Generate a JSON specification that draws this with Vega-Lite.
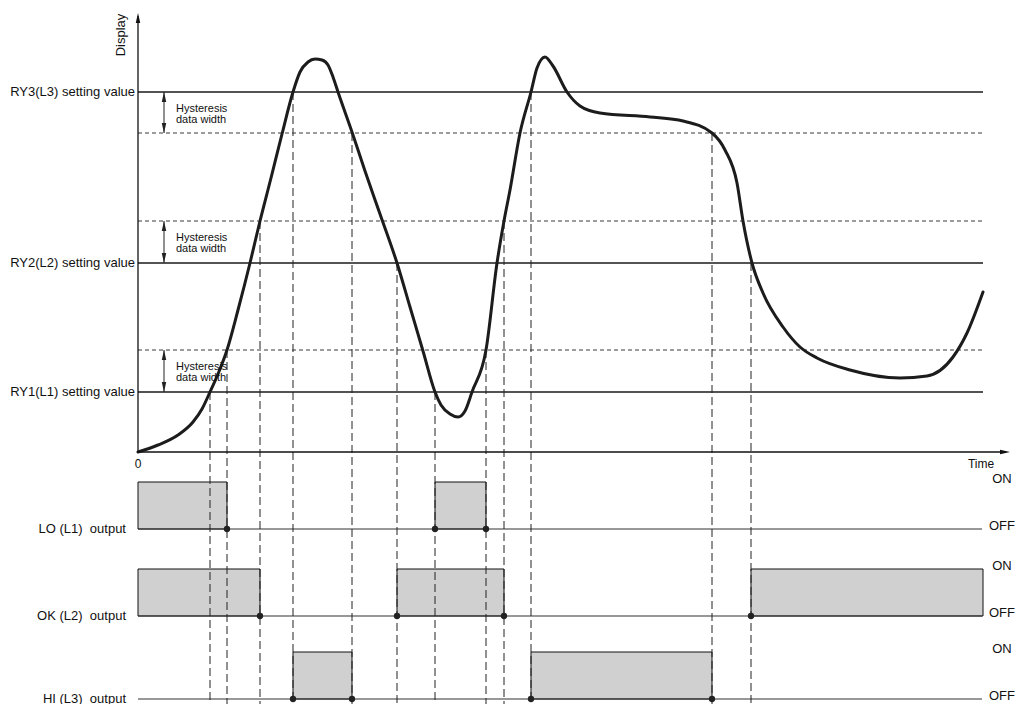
{
  "$schema": "https://vega.github.io/schema/vega-lite/v6.json",
  "width": 879,
  "height": 704,
  "padding": {"left": 138, "top": 0, "right": 0, "bottom": 0},
  "autosize": {"type": "none"},
  "config": {
    "view": {"stroke": null},
    "text": {"font": "Liberation Sans", "fontSize": 13, "color": "#111"}
  },
  "datasets": {
    "display": [
      {"t": 0, "v": 0}, {"t": 20, "v": 7}, {"t": 40, "v": 17}, {"t": 55, "v": 30}, {"t": 64, "v": 43},
      {"t": 72, "v": 60}, {"t": 80, "v": 78}, {"t": 89, "v": 102}, {"t": 100, "v": 142}, {"t": 112, "v": 189},
      {"t": 122, "v": 231}, {"t": 133, "v": 274}, {"t": 144, "v": 318}, {"t": 155, "v": 360}, {"t": 162, "v": 380},
      {"t": 170, "v": 390}, {"t": 177, "v": 393}, {"t": 184, "v": 392}, {"t": 190, "v": 387}, {"t": 195, "v": 375},
      {"t": 200, "v": 360}, {"t": 214, "v": 320}, {"t": 227, "v": 281}, {"t": 242, "v": 238}, {"t": 259, "v": 189},
      {"t": 272, "v": 145}, {"t": 285, "v": 101}, {"t": 297, "v": 60}, {"t": 303, "v": 47}, {"t": 312, "v": 38},
      {"t": 320, "v": 35}, {"t": 327, "v": 41}, {"t": 334, "v": 60}, {"t": 348, "v": 102}, {"t": 359, "v": 189},
      {"t": 366, "v": 231}, {"t": 372, "v": 262}, {"t": 382, "v": 319}, {"t": 393, "v": 360}, {"t": 399, "v": 384},
      {"t": 407, "v": 395}, {"t": 415, "v": 386}, {"t": 429, "v": 360}, {"t": 442, "v": 346}, {"t": 462, "v": 339},
      {"t": 512, "v": 335}, {"t": 545, "v": 331}, {"t": 574, "v": 319}, {"t": 587, "v": 302}, {"t": 599, "v": 269},
      {"t": 605, "v": 231}, {"t": 614, "v": 189}, {"t": 625, "v": 159}, {"t": 645, "v": 125}, {"t": 662, "v": 105},
      {"t": 679, "v": 94}, {"t": 712, "v": 82}, {"t": 762, "v": 74}, {"t": 789, "v": 76}, {"t": 815, "v": 95},
      {"t": 829, "v": 119}, {"t": 845, "v": 160}
    ],
    "thresholds": [
      {"label": "RY3(L3) setting value", "setting": 360, "hysteresis": 319, "upper": 360, "lower": 319},
      {"label": "RY2(L2) setting value", "setting": 189, "hysteresis": 231, "upper": 231, "lower": 189},
      {"label": "RY1(L1) setting value", "setting": 60, "hysteresis": 102, "upper": 102, "lower": 60}
    ],
    "crossings": [
      {"t": 72, "v": 60}, {"t": 89, "v": 102}, {"t": 122, "v": 231}, {"t": 155, "v": 360},
      {"t": 214, "v": 319}, {"t": 259, "v": 189}, {"t": 297, "v": 60}, {"t": 348, "v": 102},
      {"t": 366, "v": 231}, {"t": 393, "v": 360}, {"t": 574, "v": 319}, {"t": 613, "v": 189}
    ],
    "outputs": [
      {"output": "LO", "label": "LO (L1)\u00a0 output", "off": -77, "on": -30},
      {"output": "OK", "label": "OK (L2)\u00a0 output", "off": -164, "on": -117},
      {"output": "HI", "label": "HI (L3)\u00a0 output", "off": -247, "on": -200}
    ],
    "boxes": [
      {"output": "LO", "start": 0, "end": 89},
      {"output": "LO", "start": 297, "end": 348},
      {"output": "OK", "start": 0, "end": 122},
      {"output": "OK", "start": 259, "end": 366},
      {"output": "OK", "start": 613, "end": 845},
      {"output": "HI", "start": 155, "end": 214},
      {"output": "HI", "start": 393, "end": 574}
    ],
    "anchor": [{}]
  },
  "layer": [
    {
      "data": {"name": "boxes"},
      "transform": [{"lookup": "output", "from": {"data": {"name": "outputs"}, "key": "output", "fields": ["off", "on"]}}],
      "mark": {"type": "rect", "fill": "#d0d0d0", "stroke": "#111", "strokeWidth": 1},
      "encoding": {
        "x": {"field": "start", "type": "quantitative", "scale": {"domain": [0, 879], "nice": false, "zero": false}, "axis": null},
        "x2": {"field": "end"},
        "y": {"field": "off", "type": "quantitative", "scale": {"domain": [-252, 452], "nice": false, "zero": false}, "axis": null},
        "y2": {"field": "on"}
      }
    },
    {
      "data": {"name": "thresholds"},
      "mark": {"type": "rule", "stroke": "#1a1a1a", "strokeWidth": 1.4},
      "encoding": {
        "x": {"datum": 0, "type": "quantitative", "scale": {"domain": [0, 879], "nice": false, "zero": false}, "axis": null},
        "x2": {"datum": 845},
        "y": {"field": "setting", "type": "quantitative", "scale": {"domain": [-252, 452], "nice": false, "zero": false}, "axis": null}
      }
    },
    {
      "data": {"name": "thresholds"},
      "mark": {"type": "rule", "stroke": "#3a3a3a", "strokeWidth": 1, "strokeDash": [4, 3]},
      "encoding": {
        "x": {"datum": 0, "type": "quantitative", "scale": {"domain": [0, 879], "nice": false, "zero": false}, "axis": null},
        "x2": {"datum": 845},
        "y": {"field": "hysteresis", "type": "quantitative", "scale": {"domain": [-252, 452], "nice": false, "zero": false}, "axis": null}
      }
    },
    {
      "data": {"name": "outputs"},
      "mark": {"type": "rule", "stroke": "#333", "strokeWidth": 1.2},
      "encoding": {
        "x": {"datum": 0, "type": "quantitative", "scale": {"domain": [0, 879], "nice": false, "zero": false}, "axis": null},
        "x2": {"datum": 844},
        "y": {"field": "off", "type": "quantitative", "scale": {"domain": [-252, 452], "nice": false, "zero": false}, "axis": null}
      }
    },
    {
      "data": {"name": "crossings"},
      "mark": {"type": "rule", "stroke": "#222", "strokeWidth": 1, "strokeDash": [8, 4]},
      "encoding": {
        "x": {"field": "t", "type": "quantitative", "scale": {"domain": [0, 879], "nice": false, "zero": false}, "axis": null},
        "y": {"field": "v", "type": "quantitative", "scale": {"domain": [-252, 452], "nice": false, "zero": false}, "axis": null},
        "y2": {"datum": -252}
      }
    },
    {
      "data": {"name": "display"},
      "mark": {"type": "line", "interpolate": "monotone", "stroke": "#1c1c1c", "strokeWidth": 3, "strokeCap": "round"},
      "encoding": {
        "x": {"field": "t", "type": "quantitative", "scale": {"domain": [0, 879], "nice": false, "zero": false}, "axis": null},
        "y": {"field": "v", "type": "quantitative", "scale": {"domain": [-252, 452], "nice": false, "zero": false}, "axis": null}
      }
    },
    {
      "data": {"name": "thresholds"},
      "mark": {"type": "rule", "stroke": "#222", "strokeWidth": 1},
      "encoding": {
        "x": {"datum": 26, "type": "quantitative", "scale": {"domain": [0, 879], "nice": false, "zero": false}, "axis": null},
        "y": {"field": "upper", "type": "quantitative", "scale": {"domain": [-252, 452], "nice": false, "zero": false}, "axis": null},
        "y2": {"field": "lower"}
      }
    },
    {
      "data": {"name": "thresholds"},
      "mark": {"type": "point", "shape": "M0,0L0.45,2L-0.45,2Z", "size": 100, "filled": true, "color": "#222", "opacity": 1},
      "encoding": {
        "x": {"datum": 26, "type": "quantitative", "scale": {"domain": [0, 879], "nice": false, "zero": false}, "axis": null},
        "y": {"field": "upper", "type": "quantitative", "scale": {"domain": [-252, 452], "nice": false, "zero": false}, "axis": null}
      }
    },
    {
      "data": {"name": "thresholds"},
      "mark": {"type": "point", "shape": "M0,0L0.45,-2L-0.45,-2Z", "size": 100, "filled": true, "color": "#222", "opacity": 1},
      "encoding": {
        "x": {"datum": 26, "type": "quantitative", "scale": {"domain": [0, 879], "nice": false, "zero": false}, "axis": null},
        "y": {"field": "lower", "type": "quantitative", "scale": {"domain": [-252, 452], "nice": false, "zero": false}, "axis": null}
      }
    },
    {
      "data": {"name": "anchor"},
      "mark": {"type": "rule", "stroke": "#111", "strokeWidth": 1.3},
      "encoding": {
        "x": {"datum": 0, "type": "quantitative", "scale": {"domain": [0, 879], "nice": false, "zero": false}, "axis": null},
        "y": {"datum": 0, "type": "quantitative", "scale": {"domain": [-252, 452], "nice": false, "zero": false}, "axis": null},
        "y2": {"datum": 436}
      }
    },
    {
      "data": {"name": "anchor"},
      "mark": {"type": "rule", "stroke": "#111", "strokeWidth": 1.3},
      "encoding": {
        "x": {"datum": 0, "type": "quantitative", "scale": {"domain": [0, 879], "nice": false, "zero": false}, "axis": null},
        "x2": {"datum": 868},
        "y": {"datum": 0, "type": "quantitative", "scale": {"domain": [-252, 452], "nice": false, "zero": false}, "axis": null}
      }
    },
    {
      "data": {"name": "anchor"},
      "mark": {"type": "point", "shape": "M0,0L0.45,2L-0.45,2Z", "size": 100, "filled": true, "color": "#111", "opacity": 1},
      "encoding": {
        "x": {"datum": 0, "type": "quantitative", "scale": {"domain": [0, 879], "nice": false, "zero": false}, "axis": null},
        "y": {"datum": 439, "type": "quantitative", "scale": {"domain": [-252, 452], "nice": false, "zero": false}, "axis": null}
      }
    },
    {
      "data": {"name": "anchor"},
      "mark": {"type": "point", "shape": "M0,0L-2,0.45L-2,-0.45Z", "size": 100, "filled": true, "color": "#111", "opacity": 1},
      "encoding": {
        "x": {"datum": 872, "type": "quantitative", "scale": {"domain": [0, 879], "nice": false, "zero": false}, "axis": null},
        "y": {"datum": 0, "type": "quantitative", "scale": {"domain": [-252, 452], "nice": false, "zero": false}, "axis": null}
      }
    },
    {
      "data": {"name": "boxes"},
      "transform": [
        {"filter": "datum.start > 0"},
        {"lookup": "output", "from": {"data": {"name": "outputs"}, "key": "output", "fields": ["off"]}}
      ],
      "mark": {"type": "point", "size": 40, "filled": true, "color": "#222", "opacity": 1},
      "encoding": {
        "x": {"field": "start", "type": "quantitative", "scale": {"domain": [0, 879], "nice": false, "zero": false}, "axis": null},
        "y": {"field": "off", "type": "quantitative", "scale": {"domain": [-252, 452], "nice": false, "zero": false}, "axis": null}
      }
    },
    {
      "data": {"name": "boxes"},
      "transform": [
        {"filter": "datum.end < 845"},
        {"lookup": "output", "from": {"data": {"name": "outputs"}, "key": "output", "fields": ["off"]}}
      ],
      "mark": {"type": "point", "size": 40, "filled": true, "color": "#222", "opacity": 1},
      "encoding": {
        "x": {"field": "end", "type": "quantitative", "scale": {"domain": [0, 879], "nice": false, "zero": false}, "axis": null},
        "y": {"field": "off", "type": "quantitative", "scale": {"domain": [-252, 452], "nice": false, "zero": false}, "axis": null}
      }
    },
    {
      "data": {"name": "thresholds"},
      "mark": {"type": "text", "align": "right", "baseline": "middle", "fontSize": 13},
      "encoding": {
        "x": {"datum": -3, "type": "quantitative", "scale": {"domain": [0, 879], "nice": false, "zero": false}, "axis": null},
        "y": {"field": "setting", "type": "quantitative", "scale": {"domain": [-252, 452], "nice": false, "zero": false}, "axis": null},
        "text": {"field": "label"}
      }
    },
    {
      "data": {"name": "thresholds"},
      "mark": {"type": "text", "align": "left", "baseline": "middle", "fontSize": 11, "dy": 17},
      "encoding": {
        "x": {"datum": 38, "type": "quantitative", "scale": {"domain": [0, 879], "nice": false, "zero": false}, "axis": null},
        "y": {"field": "upper", "type": "quantitative", "scale": {"domain": [-252, 452], "nice": false, "zero": false}, "axis": null},
        "text": {"value": "Hysteresis"}
      }
    },
    {
      "data": {"name": "thresholds"},
      "mark": {"type": "text", "align": "left", "baseline": "middle", "fontSize": 11, "dy": 28},
      "encoding": {
        "x": {"datum": 38, "type": "quantitative", "scale": {"domain": [0, 879], "nice": false, "zero": false}, "axis": null},
        "y": {"field": "upper", "type": "quantitative", "scale": {"domain": [-252, 452], "nice": false, "zero": false}, "axis": null},
        "text": {"value": "data width"}
      }
    },
    {
      "data": {"name": "outputs"},
      "mark": {"type": "text", "align": "right", "baseline": "middle", "fontSize": 13},
      "encoding": {
        "x": {"datum": -12, "type": "quantitative", "scale": {"domain": [0, 879], "nice": false, "zero": false}, "axis": null},
        "y": {"field": "off", "type": "quantitative", "scale": {"domain": [-252, 452], "nice": false, "zero": false}, "axis": null},
        "text": {"field": "label"}
      }
    },
    {
      "data": {"name": "outputs"},
      "mark": {"type": "text", "align": "center", "baseline": "middle", "fontSize": 13, "dy": -3},
      "encoding": {
        "x": {"datum": 864, "type": "quantitative", "scale": {"domain": [0, 879], "nice": false, "zero": false}, "axis": null},
        "y": {"field": "on", "type": "quantitative", "scale": {"domain": [-252, 452], "nice": false, "zero": false}, "axis": null},
        "text": {"value": "ON"}
      }
    },
    {
      "data": {"name": "outputs"},
      "mark": {"type": "text", "align": "center", "baseline": "middle", "fontSize": 13, "dy": -3},
      "encoding": {
        "x": {"datum": 864, "type": "quantitative", "scale": {"domain": [0, 879], "nice": false, "zero": false}, "axis": null},
        "y": {"field": "off", "type": "quantitative", "scale": {"domain": [-252, 452], "nice": false, "zero": false}, "axis": null},
        "text": {"value": "OFF"}
      }
    },
    {
      "data": {"name": "anchor"},
      "mark": {"type": "text", "align": "center", "baseline": "alphabetic", "angle": 270, "fontSize": 13},
      "encoding": {
        "x": {"datum": -13, "type": "quantitative", "scale": {"domain": [0, 879], "nice": false, "zero": false}, "axis": null},
        "y": {"datum": 417, "type": "quantitative", "scale": {"domain": [-252, 452], "nice": false, "zero": false}, "axis": null},
        "text": {"value": "Display"}
      }
    },
    {
      "data": {"name": "anchor"},
      "mark": {"type": "text", "align": "center", "baseline": "middle", "fontSize": 12},
      "encoding": {
        "x": {"datum": 0, "type": "quantitative", "scale": {"domain": [0, 879], "nice": false, "zero": false}, "axis": null},
        "y": {"datum": -12, "type": "quantitative", "scale": {"domain": [-252, 452], "nice": false, "zero": false}, "axis": null},
        "text": {"value": "0"}
      }
    },
    {
      "data": {"name": "anchor"},
      "mark": {"type": "text", "align": "center", "baseline": "middle", "fontSize": 12},
      "encoding": {
        "x": {"datum": 843, "type": "quantitative", "scale": {"domain": [0, 879], "nice": false, "zero": false}, "axis": null},
        "y": {"datum": -12, "type": "quantitative", "scale": {"domain": [-252, 452], "nice": false, "zero": false}, "axis": null},
        "text": {"value": "Time"}
      }
    }
  ]
}
